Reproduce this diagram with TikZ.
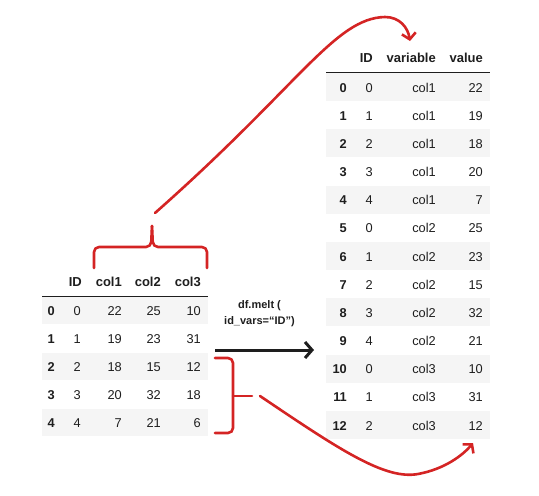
\documentclass[tikz,border=0pt]{standalone}
\usepackage{fontspec}
\setmainfont{Liberation Sans}
\usepackage{xcolor}
\usetikzlibrary{calc, arrows.meta}
\tikzset{>=latex}
\definecolor{penred}{HTML}{D42424}
\definecolor{rowgray}{HTML}{F5F5F5}
\definecolor{ink}{HTML}{1E1E1E}

\begin{document}
\begin{tikzpicture}[x=1pt, y=-1pt,
    cell/.style={anchor=base east, inner sep=0pt, text=ink, font=\fontsize{12.8}{15}\selectfont},
    head/.style={cell, font=\fontsize{13}{15}\selectfont\bfseries},
    band/.style={fill=rowgray, draw=none},
    pen/.style={draw=penred, line width=2.6pt, line cap=round, line join=round},
    pen arrow/.style={pen, -{Straight Barb[length=6pt, width=14pt, line width=2.6pt]}}]
    \useasboundingbox (0,0) rectangle (539,496);

    % Left table: stripes and rule
    \foreach \i in {0,2,4}
        \fill[band] (42,{297+28*\i}) rectangle (208,{324+28*\i});
    \draw[ink, line width=1pt] (42,296) -- (208,296);
    % Left table: header
    \node[head] (lid) at (82,286) {ID};
    \node[head] (lc1) at (122,286) {col1};
    \node[head] (lc2) at (161,286) {col2};
    \node[head] (lc3) at (201,286) {col3};
    % Left table: rows
    \foreach \i/\a/\b/\c/\d in {0/0/22/25/10, 1/1/19/23/31, 2/2/18/15/12, 3/3/20/32/18, 4/4/7/21/6}{
        \node[head, font=\fontsize{12.8}{15}\selectfont\bfseries] (lr\i) at (55,{315+28*\i}) {\i};
        \node[cell] (la\i) at (81,{315+28*\i}) {\a};
        \node[cell] (lb\i) at (122,{315+28*\i}) {\b};
        \node[cell] (lc\i) at (161,{315+28*\i}) {\c};
        \node[cell] (ld\i) at (201,{315+28*\i}) {\d};
    }

    % Right table: stripes and rule
    \foreach \i in {0,2,...,12}
        \fill[band] (326,{73+28.17*\i}) rectangle (490,{101+28.17*\i});
    \draw[ink, line width=1pt] (326,72) -- (490,72);
    % Right table: header
    \node[head] (rid) at (373,62) {ID};
    \node[head] (rvar) at (436,62) {variable};
    \node[head] (rval) at (483,62) {value};
    % Right table: rows
    \foreach \i/\a/\b/\c in {0/0/col1/22, 1/1/col1/19, 2/2/col1/18, 3/3/col1/20, 4/4/col1/7,
        5/0/col2/25, 6/1/col2/23, 7/2/col2/15, 8/3/col2/32, 9/4/col2/21,
        10/0/col3/10, 11/1/col3/31, 12/2/col3/12}{
        \node[head, font=\fontsize{12.8}{15}\selectfont\bfseries] (rr\i) at (347,{92+28.17*\i}) {\i};
        \node[cell] (ra\i) at (373,{92+28.17*\i}) {\a};
        \node[cell] (rb\i) at (436,{92+28.17*\i}) {\b};
        \node[cell] (rc\i) at (483,{92+28.17*\i}) {\c};
    }

    % Melt call
    \node[align=center, inner sep=0pt, text=ink, font=\fontsize{11}{16}\selectfont\bfseries] (melt) at (259.5,314) {df.melt (\\id\_vars=``ID'')};
    \coordinate (meltL) at (215,350);
    \coordinate (meltR) at (314,350);
    \draw[ink, line width=3pt, -{Straight Barb[length=7pt, width=16pt, line width=3pt]}] (meltL) -- (meltR);

    % Top brace over value columns
    \coordinate (topTip) at (155,213);
    \coordinate (topEnd) at (410,41);
    \draw[pen, rounded corners=5pt] (94,268) -- (94,247) -- (151,247) -- (152,226);
    \draw[pen, rounded corners=5pt] (152,226) -- (153,247) -- (207,247) -- (207,268);
    \draw[pen arrow] (topTip) .. controls (300,85) and (335,18) .. (385,17)
        .. controls (400,17) and (408,28) .. (topEnd);

    % Bottom brace over rows 2-4
    \coordinate (botTip) at (260,396);
    \coordinate (botEnd) at (473,443);
    \draw[pen, rounded corners=5pt] (215,358) -- (233,358) -- (233,433) -- (215,433);
    \draw[pen] (233,396) -- (252,396);
    \draw[pen arrow] (botTip) .. controls (340,450) and (385,480) .. (418,474)
        .. controls (445,469) and (463,455) .. (botEnd);
\end{tikzpicture}
\end{document}
